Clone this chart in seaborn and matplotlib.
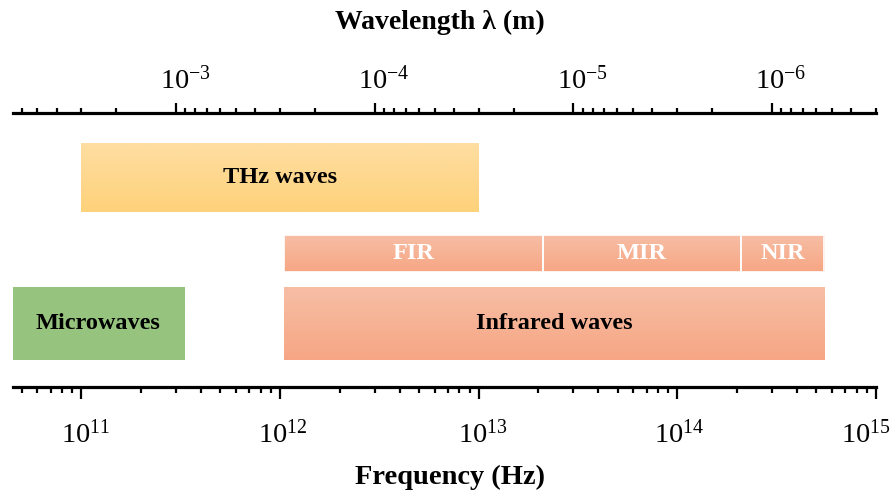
import numpy as np
import matplotlib
matplotlib.use("Agg")
import matplotlib.pyplot as plt
import matplotlib.ticker as mticker
import matplotlib.transforms as mtransforms
from matplotlib.image import AxesImage
from matplotlib.colors import LinearSegmentedColormap
import seaborn as sns

C_LIGHT = 2.998e8  # m/s

# Spectral bands (frequency edges in Hz)
band_names = ["THz waves", "FIR", "MIR", "NIR", "Microwaves", "Infrared waves"]
band_start = [1.0e11, 1.05e12, 2.1e13, 2.1e14, 4.5e10, 1.05e12]
band_end = [1.0e13, 2.1e13, 2.1e14, 5.5e14, 3.3e11, 5.5e14]
band_row = ["thz", "sub", "sub", "sub", "main", "main"]

freq_min, freq_max = 4.5e10, 1.0e15
freq_ticks = [1e11, 1e12, 1e13, 1e14, 1e15]
wave_ticks = [1e-3, 1e-4, 1e-5, 1e-6]

# row layout (axes fraction) and styling
row_center = {"thz": 0.765, "sub": 0.487, "main": 0.232}
row_height = {"thz": 0.252, "sub": 0.135, "main": 0.266}
band_fill = {
    "THz waves": ("#FED27B", "#FEDEA2"),
    "FIR": ("#F6A684", "#F7BEA5"),
    "MIR": ("#F6A684", "#F7BEA5"),
    "NIR": ("#F6A684", "#F7BEA5"),
    "Microwaves": ("#96C47E", "#96C47E"),
    "Infrared waves": ("#F6A684", "#F7BEA5"),
}
band_text = {"THz waves": "black", "FIR": "white", "MIR": "white", "NIR": "white",
             "Microwaves": "black", "Infrared waves": "black"}

sns.set_theme(style="white")
plt.rcParams["font.family"] = ["Liberation Serif", "DejaVu Serif"]
plt.rcParams["mathtext.fontset"] = "custom"
plt.rcParams["mathtext.rm"] = "Liberation Serif"
plt.rcParams["text.color"] = "black"
plt.rcParams["axes.labelcolor"] = "black"
plt.rcParams["xtick.color"] = "black"

fig = plt.figure(figsize=(8.94, 4.94), dpi=100)
ax = fig.add_axes([12.5 / 894, 1 - 387 / 494, (876 - 12.5) / 894, (387 - 113) / 494])
ax.set_xscale("log")

for name, s, e, r in zip(band_names, band_start, band_end, band_row):
    yc, h = row_center[r], row_height[r]
    bars = ax.barh(yc, e - s, left=s, height=h, color="none",
                   edgecolor="white" if r == "sub" else "none", linewidth=1.2, zorder=3)
    patch = bars.patches[0]
    lo, hi = band_fill[name]
    cmap = LinearSegmentedColormap.from_list(name, [lo, hi])
    im = AxesImage(ax, cmap=cmap, origin="lower", interpolation="bilinear",
                   extent=(0, 1, yc - h / 2, yc + h / 2), transform=ax.transAxes)
    im.set_data(np.linspace(0, 1, 64).reshape(-1, 1))
    im.set_zorder(2)
    ax.add_image(im)
    im.set_clip_path(patch)
    xc = np.sqrt(s * e)
    ax.text(xc, yc, name, ha="center", va="center", fontsize=17.5,
            fontweight="bold", color=band_text[name], zorder=4)

ax.set_xlim(freq_min, freq_max)
ax.set_ylim(0, 1)
ax.set_yticks([])
for sp in ["left", "right", "top"]:
    ax.spines[sp].set_visible(False)
ax.spines["bottom"].set_linewidth(2.3)
ax.spines["bottom"].set_color("black")
ax.xaxis.set_major_locator(mticker.FixedLocator(freq_ticks))
ax.xaxis.set_major_formatter(mticker.LogFormatterSciNotation())
ax.xaxis.set_minor_locator(mticker.LogLocator(base=10, subs=np.arange(2, 10), numticks=100))
ax.xaxis.set_minor_formatter(mticker.NullFormatter())
ax.tick_params(axis="x", which="major", direction="out", length=8.5, width=1.6,
               labelsize=20.5, pad=15, color="black", bottom=True)
ax.tick_params(axis="x", which="minor", direction="out", length=4.3, width=1.6,
               color="black", bottom=True)
ax.set_xlabel("Frequency (Hz)", fontsize=20.5, fontweight="bold", va="center")
ax.xaxis.set_label_coords((450 - 12.5) / 863.5, (387 - 477) / 274)

# wavelength axis on top
top = ax.twiny()
top.set_xscale("log")
top.set_xlim(C_LIGHT / freq_min, C_LIGHT / freq_max)
for sp in ["left", "right", "bottom"]:
    top.spines[sp].set_visible(False)
top.spines["top"].set_linewidth(2.3)
top.spines["top"].set_color("black")
top.xaxis.set_major_locator(mticker.FixedLocator(wave_ticks))
top.xaxis.set_major_formatter(mticker.LogFormatterSciNotation())
top.xaxis.set_minor_locator(mticker.LogLocator(base=10, subs=np.arange(2, 10), numticks=100))
top.xaxis.set_minor_formatter(mticker.NullFormatter())
top.tick_params(axis="x", which="major", direction="out", length=7, width=1.6,
                labelsize=20.5, pad=6, color="black", top=True)
top.tick_params(axis="x", which="minor", direction="out", length=3.6, width=1.6,
                color="black", top=True)
top.set_xlabel("Wavelength λ (m)", fontsize=20, fontweight="bold", va="center")
top.xaxis.set_label_coords((440 - 12.5) / 863.5, (387 - 22) / 274)

# nudge tick labels so the base "10" sits over its tick
def shift_labels(axis, dx_px):
    for tick, dx in zip(axis.get_major_ticks(), dx_px):
        for lbl in (tick.label1, tick.label2):
            lbl.set_transform(lbl.get_transform() +
                              mtransforms.ScaledTranslation(dx / 100, 0, fig.dpi_scale_trans))

shift_labels(ax.xaxis, [4, 3, 4, 2, -10])
shift_labels(top.xaxis, [9, 9, 9, 9])

fig.savefig("out.png", dpi=100)
